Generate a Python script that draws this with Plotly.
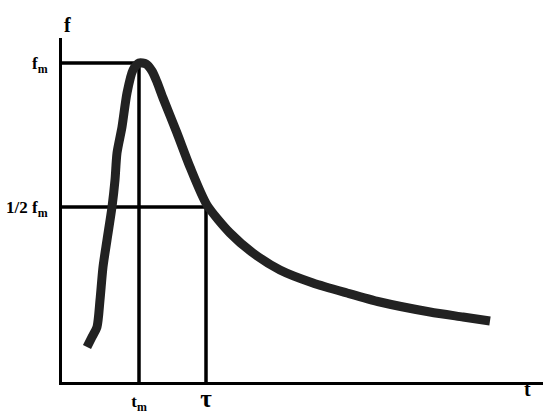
import plotly.graph_objects as go

# hand-drawn pulse curve f(t)
t_curve = [25, 30, 35, 38, 41, 45, 50, 53, 55, 60, 65, 71, 77, 84, 90, 95, 101, 115,
           128, 145, 168, 191, 218, 251, 285, 318, 368, 401, 428]
f_curve = [35, 45, 55, 82, 115, 142, 175, 202, 229, 255, 289, 312, 319, 318, 311, 300,
           284, 249, 215, 177, 149, 129, 112, 99, 89, 80, 70, 65, 61]

t_m = 77
f_m = 319
tau = 144
half_f_m = 175

x_max = 481
y_max = 344

fig = go.Figure()

# guide lines for the peak and the half-peak
guide = dict(color="black", width=3.5)
fig.add_scatter(x=[0, t_m + 6], y=[f_m, f_m], mode="lines", line=guide, hoverinfo="skip")
fig.add_scatter(x=[t_m, t_m], y=[0, f_m], mode="lines", line=guide, hoverinfo="skip")
fig.add_scatter(x=[0, tau], y=[half_f_m, half_f_m], mode="lines", line=guide, hoverinfo="skip")
fig.add_scatter(x=[tau, tau], y=[0, half_f_m], mode="lines", line=guide, hoverinfo="skip")

fig.add_scatter(x=t_curve, y=f_curve, mode="lines",
                line=dict(color="#222222", width=9, shape="spline", smoothing=0.7),
                hoverinfo="skip")

label_font = dict(family="Liberation Serif", size=20, color="black")
fig.add_annotation(x=0, y=1, xref="paper", yref="paper", yshift=26,
                   text="<b>f</b>", showarrow=False, font=label_font)
fig.add_annotation(x=(x_max - 10) / x_max, y=0, xref="paper", yref="paper", yshift=-20,
                   text="<b>t</b>", showarrow=False, font=label_font)

fig.update_layout(
    width=550, height=414,
    margin=dict(l=62, r=7, t=38, b=32, autoexpand=False),
    paper_bgcolor="white", plot_bgcolor="white",
    showlegend=False,
    font=dict(family="Liberation Serif", size=17, color="black"),
    xaxis=dict(range=[0, x_max], showgrid=False, zeroline=False, automargin=False,
               showline=True, linecolor="black", linewidth=3,
               tickvals=[t_m, tau],
               ticktext=["<b>t<sub>m</sub></b>", "<b><span style='font-size:25px'>τ</span></b>"],
               ticks="", ticklabelstandoff=2),
    yaxis=dict(range=[0, y_max], showgrid=False, zeroline=False, automargin=False,
               showline=True, linecolor="black", linewidth=3,
               tickvals=[half_f_m, f_m],
               ticktext=["<b>1/2 f<sub>m</sub></b>", "<b>f<sub>m</sub></b>"],
               ticks="", ticklabelstandoff=8),
)

fig.write_html("out.html", config={"displayModeBar": False},
               post_script="document.body.style.margin='0';")
